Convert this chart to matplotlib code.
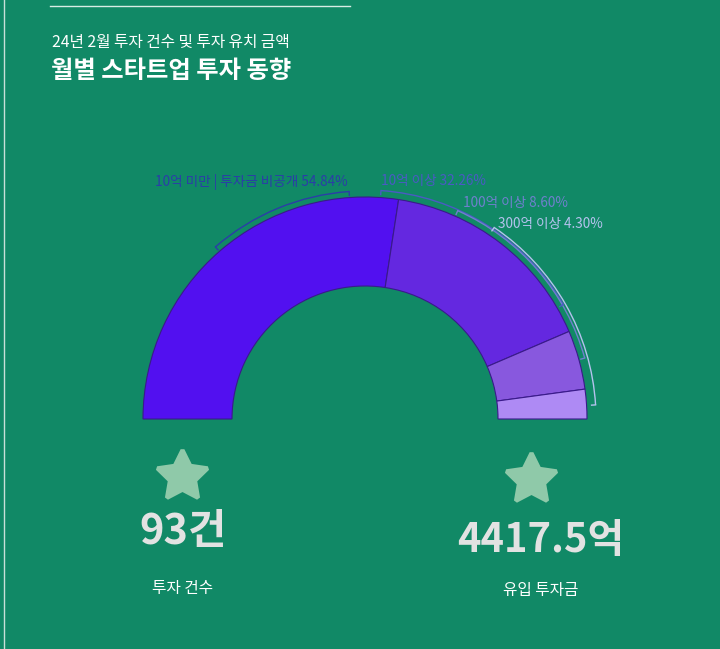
import numpy as np
import matplotlib
matplotlib.use("Agg")
import matplotlib.pyplot as plt
from matplotlib.patches import Wedge, Arc

plt.rcParams['font.family'] = ['Noto Sans CJK KR', 'DejaVu Sans']

# data
labels = ["10억 미만 | 투자금 비공개", "10억 이상", "100억 이상", "300억 이상"]
shares = [54.84, 32.26, 8.60, 4.30]
colors = ["#5210F0", "#6428E0", "#8858DE", "#AE8AF4"]
label_colors = ["#2B3DA8", "#4A5AC4", "#6F80CE", "#B4C2EE"]
deal_count = "93건"
deal_amount = "4417.5억"

W, H = 720, 649
bg = "#118966"

fig = plt.figure(figsize=(W / 100, H / 100), dpi=100)
fig.patch.set_facecolor(bg)
ax = fig.add_axes([0, 0, 1, 1])
ax.set_xlim(0, W)
ax.set_ylim(0, H)
ax.set_aspect("equal")
ax.axis("off")


def Y(y):
    return H - y


# frame decoration
ax.plot([50, 350], [Y(6), Y(6)], color="#d8ece4", lw=1)
ax.plot([3.5, 3.5], [0, H], color="#c8e0d8", lw=1)

# titles
ax.text(52, Y(42), "24년 2월 투자 건수 및 투자 유치 금액", color="white",
        fontsize=11.3, va="center", ha="left")
ax.text(51, Y(71), "월별 스타트업 투자 동향", color="white",
        fontsize=17.5, fontweight="bold", va="center", ha="left")

# half donut
cx, cy = 365, Y(419)
r_out, r_in = 222, 133
start = 180.0
for s, c in zip(shares, colors):
    span = 180.0 * s / sum(shares)
    ax.add_patch(Wedge((cx, cy), r_out, start - span, start, width=r_out - r_in,
                       facecolor=c, edgecolor="#3a1a8a", lw=0.8))
    start -= span

# label brackets (arcs outside the ring) and label text
br = [(228, 131, 94), (229, 86, 30), (228, 66, 15.5), (231, 56, 3.5)]
text_pos = [(155, 182), (381, 181), (463, 203), (498, 224)]
for i, (lab, s) in enumerate(zip(labels, shares)):
    r, a0, a1 = br[i]
    col = label_colors[i]
    ax.add_patch(Arc((cx, cy), 2 * r, 2 * r, theta1=a1, theta2=a0, color=col, lw=1.0))
    for a in (a0, a1):
        t = np.radians(a)
        ax.plot([cx + (r - 4) * np.cos(t), cx + r * np.cos(t)],
                [cy + (r - 4) * np.sin(t), cy + r * np.sin(t)], color=col, lw=1.0)
    tx, ty = text_pos[i]
    ax.text(tx, Y(ty), f"{lab} {s:.2f}%", color=col, fontsize=9.8,
            ha="left", va="center")

# stars and numbers
star_col = "#8fc9a9"
for x, y in [(182, 476), (531, 479)]:
    ax.plot(x, Y(y), marker=(5, 1, 0), markersize=38, color=star_col,
            markeredgecolor=star_col, markeredgewidth=3, solid_joinstyle="round")

ax.text(183, Y(532), deal_count, color="#e2e2e2", fontsize=30, fontweight="bold",
        ha="center", va="center")
ax.text(541, Y(541), deal_amount, color="#e2e2e2", fontsize=28.7, fontweight="bold",
        ha="center", va="center")
ax.text(183, Y(588), "투자 건수", color="white", fontsize=11.3, ha="center", va="center")
ax.text(541, Y(591), "유입 투자금", color="white", fontsize=11.3, ha="center", va="center")

fig.savefig("out.png", dpi=100, facecolor=bg)
